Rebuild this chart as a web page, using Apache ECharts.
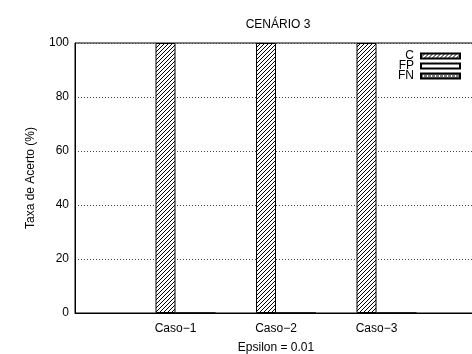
<!DOCTYPE html>
<html>
<head>
<meta charset="utf-8">
<script src="https://cdn.jsdelivr.net/npm/echarts@6/dist/echarts.min.js"></script>
<style>html,body{margin:0;padding:0;background:#fff;}#c{width:472px;height:354px;}</style>
</head>
<body>
<div id="c"></div>
<script>
var categories = ['', 'Caso\u22121', 'Caso\u22122', 'Caso\u22123', ''];
var seriesNames = ['C', 'FP', 'FN'];
var valuesC = ['-', 100, 100, 100, '-'];
var valuesFP = ['-', 0, 0, 0, '-'];
var valuesFN = ['-', 0, 0, 0, '-'];
var yTicks = [0, 20, 40, 60, 80, 100];

function hatch() {
  var c = document.createElement('canvas');
  c.width = 4; c.height = 4;
  var g = c.getContext('2d');
  g.fillStyle = '#fff'; g.fillRect(0, 0, 4, 4);
  g.fillStyle = '#000';
  g.fillRect(3, 0, 1, 1); g.fillRect(2, 1, 1, 1); g.fillRect(1, 2, 1, 1); g.fillRect(0, 3, 1, 1);
  return c;
}
function dots() {
  var c = document.createElement('canvas');
  c.width = 4; c.height = 4;
  var g = c.getContext('2d');
  g.fillStyle = '#fff'; g.fillRect(0, 0, 4, 4);
  g.fillStyle = '#000';
  g.fillRect(0, 0, 1, 1); g.fillRect(2, 0, 1, 1); g.fillRect(1, 1, 1, 1); g.fillRect(3, 1, 1, 1);
  g.fillRect(0, 2, 1, 1); g.fillRect(1, 3, 1, 1); g.fillRect(3, 3, 1, 1);
  return c;
}

var font = 'Liberation Sans, Arial, Helvetica, sans-serif';
var chart = echarts.init(document.getElementById('c'), null, {renderer: 'canvas'});
chart.setOption({
  animation: false,
  backgroundColor: '#fff',
  textStyle: {fontFamily: font, color: '#000'},
  title: {
    text: 'CEN\u00C1RIO 3', left: 273, top: 14, textAlign: 'center',
    textStyle: {fontSize: 12, fontWeight: 'normal', color: '#000', fontFamily: font}
  },
  legend: {
    data: seriesNames, orient: 'vertical', align: 'right', right: 11, top: 50, padding: 0,
    icon: 'rect', itemWidth: 39, itemHeight: 5, itemGap: -2,
    textStyle: {fontSize: 12, color: '#000', fontFamily: font, padding: [0, 2, 0, 0]},
    selectedMode: false
  },
  grid: {left: 75, right: -5, top: 43, bottom: 41, outerBoundsMode: 'none', containLabel: false,
         show: true, borderColor: '#000', borderWidth: 1, backgroundColor: 'transparent'},
  xAxis: {
    type: 'category', data: categories, boundaryGap: false,
    name: 'Epsilon = 0.01', nameLocation: 'middle', nameGap: 29,
    nameTextStyle: {fontSize: 12, color: '#000', fontFamily: font},
    axisLine: {show: true, lineStyle: {color: '#000', width: 1}},
    axisTick: {show: false},
    axisLabel: {interval: 0, fontSize: 12, color: '#000', margin: 10, fontFamily: font},
    splitLine: {show: false}
  },
  yAxis: {
    type: 'value', min: yTicks[0], max: yTicks[yTicks.length - 1], interval: 20,
    name: 'Taxa de Acerto (%)', nameLocation: 'middle', nameGap: 38,
    nameTextStyle: {fontSize: 12, color: '#000', fontFamily: font},
    axisLine: {show: true, lineStyle: {color: '#000', width: 1}},
    axisTick: {show: false},
    axisLabel: {fontSize: 12, color: '#000', margin: 6, fontFamily: font},
    splitLine: {show: true, lineStyle: {color: '#444', width: 1, type: [1, 2]}}
  },
  series: [
    {name: '_pad', type: 'bar', data: ['-', '-', '-', '-', '-'], barWidth: 20, barGap: 0, silent: true},
    {name: 'C', type: 'bar', data: valuesC, barWidth: 20, barGap: 0,
     itemStyle: {color: {image: hatch(), repeat: 'repeat'}, borderColor: '#000', borderWidth: 1}},
    {name: 'FP', type: 'bar', data: valuesFP, barWidth: 20, barGap: 0,
     itemStyle: {color: '#fff', borderColor: '#000', borderWidth: 1}},
    {name: 'FN', type: 'bar', data: valuesFN, barWidth: 20, barGap: 0,
     itemStyle: {color: {image: dots(), repeat: 'repeat'}, borderColor: '#000', borderWidth: 1}}
  ]
});
</script>
</body>
</html>
